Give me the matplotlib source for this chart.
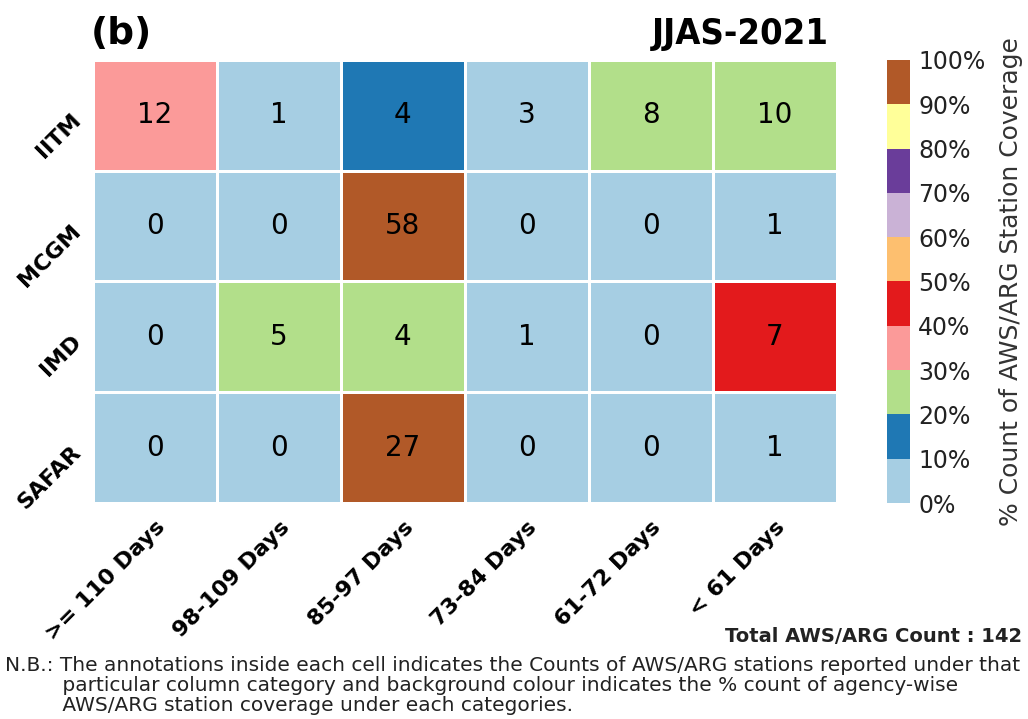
import numpy as np
import matplotlib
matplotlib.use("Agg")
import matplotlib.pyplot as plt

agencies = ["IITM", "MCGM", "IMD", "SAFAR"]
categories = [">= 110 Days", "98-109 Days", "85-97 Days", "73-84 Days", "61-72 Days", "< 61 Days"]
iitm = [12, 1, 4, 3, 8, 10]
mcgm = [0, 0, 58, 0, 0, 1]
imd = [0, 5, 4, 1, 0, 7]
safar = [0, 0, 27, 0, 0, 1]
cbar_ticks = [0, 10, 20, 30, 40, 50, 60, 70, 80, 90, 100]

counts = np.array([iitm, mcgm, imd, safar], dtype=float)
pct = counts / counts.sum(axis=1, keepdims=True) * 100
total = int(counts.sum())

cmap = plt.get_cmap("Paired", 10)

fig = plt.figure(figsize=(10.28, 7.19), dpi=100)
ax = fig.add_axes([0.0905, 0.3004, 0.7235, 0.6162])
cax = fig.add_axes([0.8628, 0.3004, 0.0224, 0.6162])

nr, nc = counts.shape
mesh = ax.pcolormesh(np.arange(nc + 1), np.arange(nr + 1), pct, cmap=cmap,
                     vmin=0, vmax=100, edgecolors="white", linewidth=1.0)
ax.set_xlim(0, nc)
ax.set_ylim(nr, 0)
for i in range(nr):
    for j in range(nc):
        ax.text(j + 0.5, i + 0.5, f"{int(counts[i, j])}", ha="center", va="center",
                fontsize=20, color="black")

ax.set_xticks(np.arange(nc) + 0.5)
ax.set_xticklabels(categories, rotation=45, ha="right", rotation_mode="anchor",
                   fontsize=16, fontweight="bold")
ax.set_yticks(np.arange(nr) + 0.5)
ax.set_yticklabels(agencies, rotation=45, ha="right", rotation_mode="anchor",
                   fontsize=16, fontweight="bold")
ax.tick_params(axis="x", length=0, pad=10)
ax.tick_params(axis="y", length=0, pad=12)
for s in ax.spines.values():
    s.set_visible(False)

cb = fig.colorbar(mesh, cax=cax, ticks=cbar_ticks)
cb.outline.set_visible(False)
cb.ax.set_yticklabels([f"{t}%" for t in cbar_ticks], fontsize=17, color="#222222")
cb.ax.tick_params(length=0, pad=6)
cb.set_label("% Count of AWS/ARG Station Coverage", fontsize=18, labelpad=10, color="#333333")

fig.text(0.088, 0.953, "(b)", fontsize=27, fontweight="bold", ha="left", va="center")
fig.text(0.806, 0.953, "JJAS-2021", fontsize=26, fontweight="bold", fontstretch="condensed",
         ha="right", va="center")
fig.text(0.994, 0.115, f"Total AWS/ARG Count : {total}", fontsize=14, fontweight="bold",
         ha="right", va="center", color="#222222")
fig.text(0.005, 0.047,
         "N.B.: The annotations inside each cell indicates the Counts of AWS/ARG stations reported under that\n"
         "         particular column category and background colour indicates the % count of agency-wise\n"
         "         AWS/ARG station coverage under each categories.",
         fontsize=14.5, ha="left", va="center", color="#222222", linespacing=1.08)

fig.savefig("out.png", dpi=100)
